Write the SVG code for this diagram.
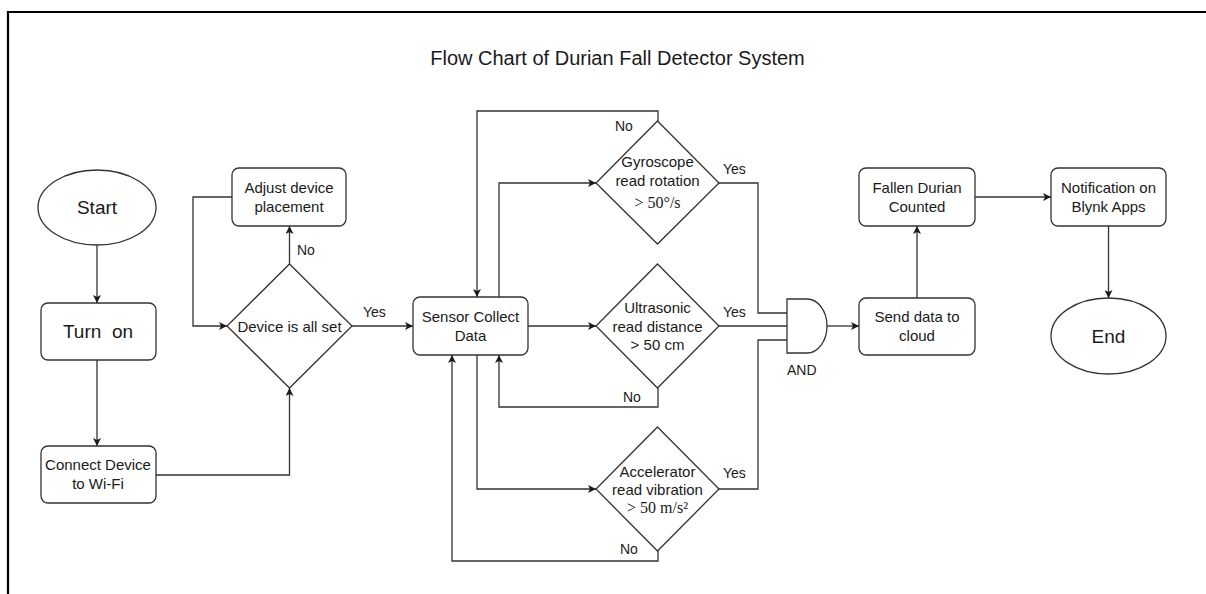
<svg xmlns="http://www.w3.org/2000/svg" width="1206" height="594" viewBox="0 0 1206 594">
<style>
  .box { fill: #ffffff; stroke: #333333; stroke-width: 1.3; }
  .edge { fill: none; stroke: #333333; stroke-width: 1.3; }
  .t { font-family: "Liberation Sans", Arial, sans-serif; font-size: 15px; fill: #1a1a1a; text-anchor: middle; }
  .big { font-size: 19px; }
  .s { font-family: "Liberation Serif", "Times New Roman", serif; font-size: 16px; fill: #1a1a1a; text-anchor: middle; }
  .lbl { font-family: "Liberation Sans", Arial, sans-serif; font-size: 14px; fill: #1a1a1a; }
  .title { font-family: "Liberation Sans", Arial, sans-serif; font-size: 20px; fill: #1a1a1a; text-anchor: middle; }
</style>
<defs>
  <marker id="arr" viewBox="0 0 10 10" refX="10" refY="5" markerWidth="9" markerHeight="8" orient="auto" markerUnits="userSpaceOnUse">
    <path d="M0,0 L10,5 L0,10 L2.5,5 z" fill="#1a1a1a"/>
  </marker>
</defs>
<rect x="0" y="0" width="1206" height="594" fill="#ffffff"/>
<g id="frame">
  <path d="M8,594 L8,12 L1206,12" fill="none" stroke="#000000" stroke-width="2.2"/>
</g>
<text class="title" x="617.5" y="65">Flow Chart of Durian Fall Detector System</text>

<g id="connectors">
  <path class="edge" d="M97,245 L97,303" marker-end="url(#arr)"/>
  <path class="edge" d="M97,360 L97,446" marker-end="url(#arr)"/>
  <path class="edge" d="M156,475 L289.5,475 L289.5,388" marker-end="url(#arr)"/>
  <path class="edge" d="M289.5,264 L289.5,226" marker-end="url(#arr)"/>
  <path class="edge" d="M232,197 L193,197 L193,326 L227,326" marker-end="url(#arr)"/>
  <path class="edge" d="M352,326 L413,326" marker-end="url(#arr)"/>
  <path class="edge" d="M658,121 L658,111 L477,111 L477,297" marker-end="url(#arr)"/>
  <path class="edge" d="M499,297 L499,183 L596,183" marker-end="url(#arr)"/>
  <path class="edge" d="M528,326 L596,326" marker-end="url(#arr)"/>
  <path class="edge" d="M658,388 L658,407 L499,407 L499,355" marker-end="url(#arr)"/>
  <path class="edge" d="M477,355 L477,489 L596,489" marker-end="url(#arr)"/>
  <path class="edge" d="M658,551 L658,561 L452,561 L452,355" marker-end="url(#arr)"/>
  <path class="edge" d="M719,183 L758,183 L758,313 L787,313"/>
  <path class="edge" d="M719,326 L787,326"/>
  <path class="edge" d="M719,489 L758,489 L758,340 L787,340"/>
  <path class="edge" d="M827,326 L859,326" marker-end="url(#arr)"/>
  <path class="edge" d="M917,298 L917,226" marker-end="url(#arr)"/>
  <path class="edge" d="M975,197 L1051,197" marker-end="url(#arr)"/>
  <path class="edge" d="M1108.5,226 L1108.5,298" marker-end="url(#arr)"/>
  <text class="lbl" x="297" y="255">No</text>
  <text class="lbl" x="363" y="317">Yes</text>
  <text class="lbl" x="615" y="131">No</text>
  <text class="lbl" x="723" y="174">Yes</text>
  <text class="lbl" x="723" y="317">Yes</text>
  <text class="lbl" x="623" y="402">No</text>
  <text class="lbl" x="723" y="478">Yes</text>
  <text class="lbl" x="620" y="554">No</text>
</g>

<g id="start">
  <ellipse class="box" cx="97" cy="207.5" rx="59" ry="37.5"/>
  <text class="t big" x="97" y="214">Start</text>
</g>
<g id="turn-on">
  <rect class="box" x="41" y="303" width="115" height="57" rx="7"/>
  <text class="t big" x="98" y="338" style="white-space:pre">Turn  on</text>
</g>
<g id="connect-wifi">
  <rect class="box" x="41" y="446" width="115" height="57" rx="7"/>
  <text class="t" x="98" y="470">Connect Device</text>
  <text class="t" x="98" y="489">to Wi-Fi</text>
</g>
<g id="device-set">
  <polygon class="box" points="289.5,264 352,326 289.5,388 227,326"/>
  <text class="t" x="289.5" y="332">Device is all set</text>
</g>
<g id="adjust">
  <rect class="box" x="232" y="168" width="114" height="58" rx="7"/>
  <text class="t" x="289" y="193">Adjust device</text>
  <text class="t" x="289" y="212">placement</text>
</g>
<g id="sensor">
  <rect class="box" x="413" y="297" width="115" height="58" rx="7"/>
  <text class="t" x="470.5" y="322">Sensor Collect</text>
  <text class="t" x="470.5" y="341">Data</text>
</g>
<g id="gyroscope">
  <polygon class="box" points="657.5,121 719,183 657.5,244 596,183"/>
  <text class="t" x="657.5" y="167">Gyroscope</text>
  <text class="t" x="657.5" y="186">read rotation</text>
  <text class="s" x="657.5" y="208">&gt; 50°/s</text>
</g>
<g id="ultrasonic">
  <polygon class="box" points="657.5,264 719,326 657.5,388 596,326"/>
  <text class="t" x="657.5" y="313">Ultrasonic</text>
  <text class="t" x="657.5" y="332">read distance</text>
  <text class="t" x="657.5" y="350">&gt; 50 cm</text>
</g>
<g id="accelerator">
  <polygon class="box" points="657.5,427 719,489 657.5,551 596,489"/>
  <text class="t" x="657.5" y="477">Accelerator</text>
  <text class="t" x="657.5" y="495">read vibration</text>
  <text class="s" x="657.5" y="513">&gt; 50 m/s²</text>
</g>
<g id="and-gate">
  <path class="box" d="M787,299 L807,299 A20,27 0 0 1 807,353 L787,353 Z"/>
  <text class="lbl" x="787" y="375">AND</text>
</g>
<g id="send-cloud">
  <rect class="box" x="859" y="298" width="116" height="57" rx="7"/>
  <text class="t" x="917" y="322">Send data to</text>
  <text class="t" x="917" y="341">cloud</text>
</g>
<g id="fallen">
  <rect class="box" x="859" y="168" width="116" height="58" rx="7"/>
  <text class="t" x="917" y="193">Fallen Durian</text>
  <text class="t" x="917" y="212">Counted</text>
</g>
<g id="notification">
  <rect class="box" x="1051" y="168" width="115" height="58" rx="7"/>
  <text class="t" x="1108.5" y="193">Notification on</text>
  <text class="t" x="1108.5" y="212">Blynk Apps</text>
</g>
<g id="end">
  <ellipse class="box" cx="1108.5" cy="336" rx="57.5" ry="38"/>
  <text class="t big" x="1108.5" y="343">End</text>
</g>
</svg>
